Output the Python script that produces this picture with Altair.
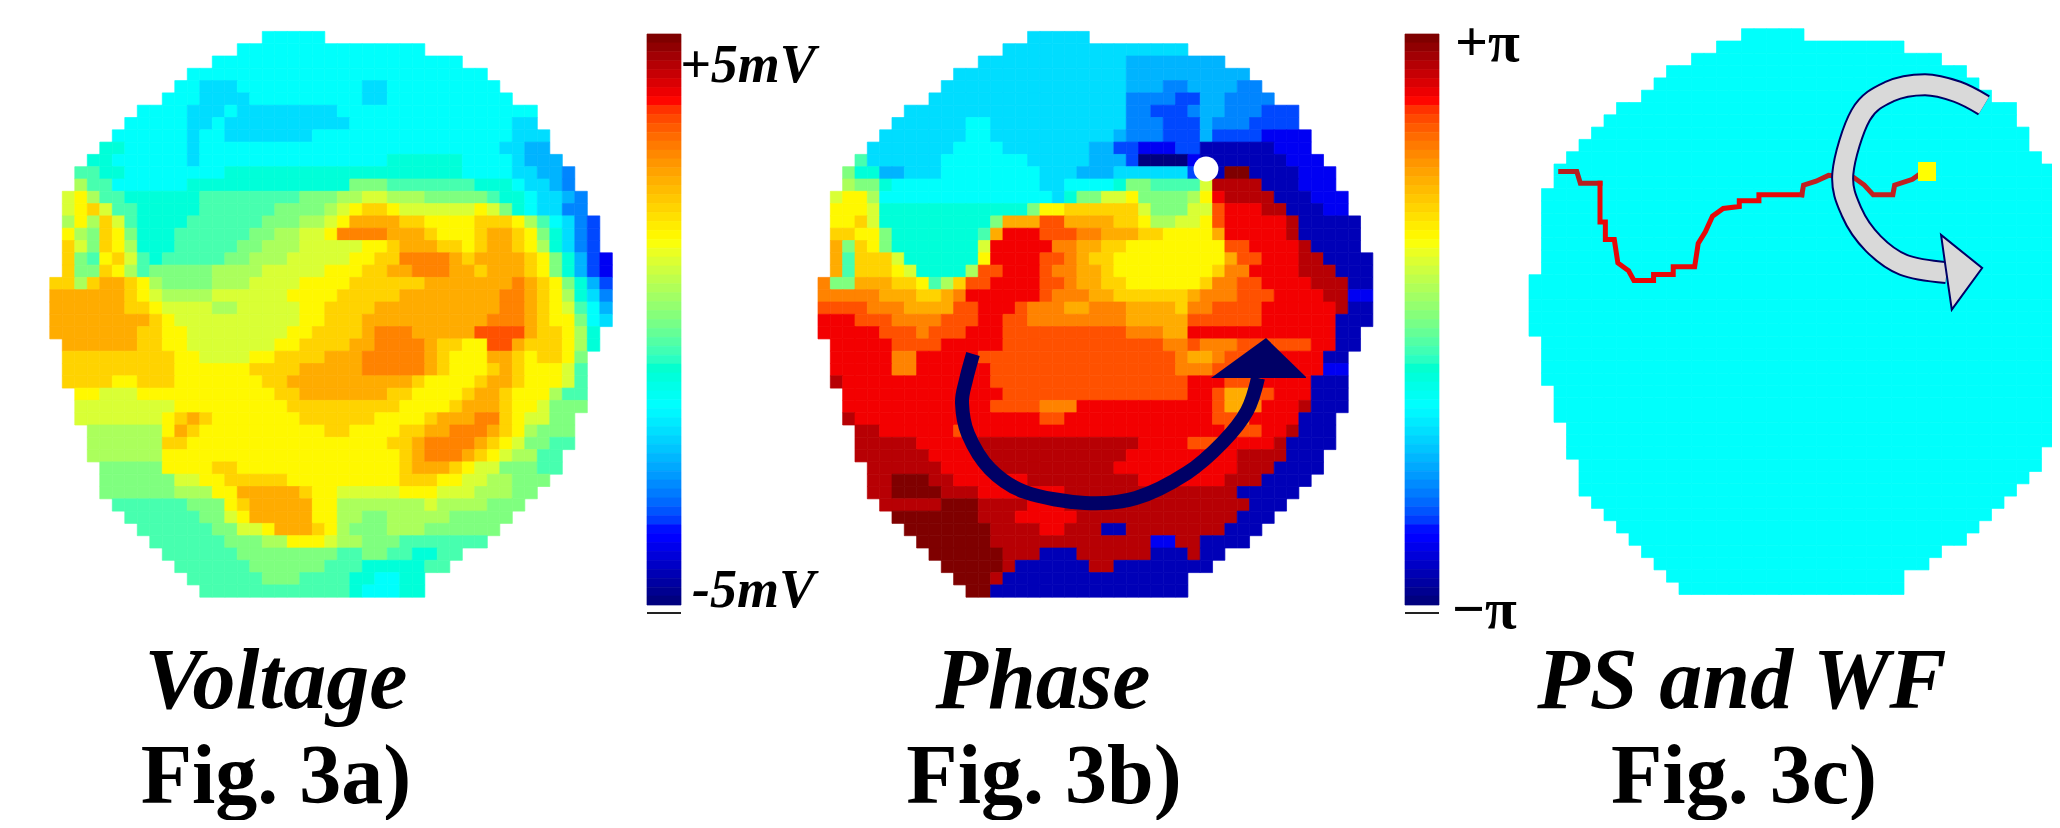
import altair as alt
import pandas as pd

alt.data_transformers.disable_max_rows()

LEFT = [17,15,13,11,10,9,7,6,5,4,3,2,2,1,1,1,1,1,1,1,0,0,0,0,0,1,1,1,1,2,2,2,3,3,3,4,4,4,5,6,7,8,9,10,11,12]
RIGHT = [22,30,33,35,36,37,39,39,40,40,41,42,42,43,43,44,44,44,45,45,45,45,45,45,44,44,43,43,43,43,43,42,42,42,41,41,40,39,38,37,36,35,33,32,30,30]

VOLTAGE = [
"7:22",
"7:30",
"7:33",
"7:35",
"7:12 6:15 7:25 6:27 7:36",
"7:12 6:16 7:25 6:27 7:37",
"7:11 6:14 7:15 6:23 7:39",
"7:11 6:13 7:14 6:24 7:37 6:39",
"7:11 6:12 7:14 6:21 7:37 6:40",
"8:6 7:11 6:12 7:36 6:38 5:40",
"8:5 7:11 6:12 7:27 8:33 7:37 6:38 5:41",
"9:4 8:6 7:14 8:33 7:37 6:39 5:41 4:42",
"b:3 9:5 7:11 8:24 a:27 9:34 8:37 7:38 6:40 5:41 4:42",
"c:2 d:3 b:4 9:6 8:12 9:20 a:23 b:25 c:27 b:30 a:35 9:36 8:38 7:39 6:41 5:42 4:43",
"c:2 d:3 e:4 c:5 9:7 8:12 9:18 a:22 b:23 c:24 d:25 e:27 d:28 c:34 d:35 c:36 a:37 8:38 7:39 6:41 4:43",
"b:2 d:3 b:4 e:5 c:6 9:7 8:11 9:17 a:20 b:22 c:23 d:24 f:28 e:30 d:34 e:37 d:38 b:39 9:40 7:41 6:42 4:43 3:44",
"d:2 b:3 a:4 e:5 d:6 a:7 8:10 9:16 a:18 b:20 c:22 d:23 g:27 f:30 e:31 d:34 e:35 f:37 e:38 d:39 a:40 8:41 6:42 4:43 3:44",
"e:2 c:3 a:4 e:5 d:6 b:7 8:10 9:15 a:17 b:20 c:25 d:27 e:28 f:31 e:33 d:34 e:35 f:37 e:38 d:39 b:40 8:41 6:42 4:43 3:44",
"e:2 a:3 9:4 d:5 e:6 c:7 9:8 8:9 9:14 a:16 b:19 c:24 d:26 e:28 g:32 f:33 e:34 f:38 e:39 d:40 a:41 8:42 5:43 3:44 2:45",
"e:2 a:4 e:5 d:6 b:7 9:8 a:13 b:17 c:22 d:25 e:27 f:29 g:32 f:34 e:35 f:38 e:39 d:40 a:41 8:42 5:43 3:44 2:45",
"e:2 b:3 e:4 f:6 e:7 d:8 b:9 a:13 b:16 c:20 d:24 e:30 f:37 g:38 f:39 e:40 d:41 a:42 8:43 5:44 3:45",
"f:6 e:7 d:8 c:9 b:13 c:19 d:23 e:28 f:36 g:38 f:39 e:40 d:41 b:42 8:43 6:44 4:45",
"f:6 e:8 d:9 c:13 b:15 c:20 d:22 e:26 f:36 g:38 f:39 e:40 d:41 c:42 9:43 7:44 5:45",
"f:8 e:9 d:10 c:20 d:22 e:25 f:35 g:38 f:39 e:40 d:42 a:43 7:44 6:45",
"f:7 e:9 d:11 c:19 d:21 e:25 f:26 g:29 f:34 h:38 f:39 e:41 d:42 b:43 8:44",
"f:7 e:9 d:11 c:18 d:20 e:24 f:26 g:30 f:31 e:33 d:35 h:37 f:38 e:41 d:42 b:43 8:44",
"e:10 d:12 c:16 d:18 e:22 f:25 g:30 f:31 e:32 d:35 f:37 e:38 d:39 e:41 d:42 a:43",
"e:10 d:16 e:20 f:25 g:30 f:31 e:32 d:35 e:36 f:37 e:38 d:41 c:42 9:43",
"e:5 d:7 e:10 d:17 e:19 f:29 e:30 d:34 e:35 f:37 e:38 d:41 c:42 9:43",
"d:4 c:7 d:18 e:20 f:27 e:29 d:33 e:34 f:36 e:37 d:40 b:41 9:43",
"c:10 d:19 e:28 d:32 e:33 f:36 e:37 d:39 c:40 a:43",
"c:9 d:10 e:11 f:12 e:13 d:20 e:26 d:30 e:31 f:34 g:36 e:37 d:38 c:40 a:42",
"b:9 d:10 f:11 e:12 d:22 e:24 d:28 e:30 f:32 g:35 f:36 e:37 d:38 b:39 a:42",
"b:9 e:11 d:27 e:29 f:30 g:34 f:35 e:36 d:37 c:38 a:40 9:42",
"b:9 d:28 e:29 f:30 g:33 f:34 e:35 d:36 c:37 b:39 9:41",
"a:9 d:13 e:15 d:28 e:29 f:32 e:33 d:34 c:36 a:39 9:41",
"a:10 c:12 d:14 e:19 d:28 e:31 d:33 c:35 b:37 a:40",
"a:10 b:13 d:15 f:20 e:21 d:23 c:28 d:31 c:34 b:37 a:39",
"9:11 a:14 d:15 e:16 f:21 d:23 b:30 c:31 b:35 a:38",
"9:12 a:14 c:15 d:16 f:21 d:23 b:25 a:27 b:32 a:37",
"9:13 a:15 c:17 d:18 f:21 e:22 d:23 b:24 a:27 b:30 a:36",
"9:14 a:17 b:19 d:22 c:23 b:25 a:28 9:35",
"9:15 a:23 9:25 a:27 9:29 8:31 9:33",
"9:16 a:22 9:25 8:30 9:32",
"9:17 a:20 9:24 8:26 7:28 8:30",
"9:24 8:25 7:28 8:30",
]

PHASE = [
"6:22",
"6:30",
"6:25 5:33",
"6:25 5:35",
"6:25 5:28 4:30 5:34 4:36",
"6:25 4:29 3:31 5:33 4:37",
"6:25 4:27 3:30 4:31 5:33 4:36 3:39",
"6:12 7:14 6:25 4:28 3:31 5:32 4:35 3:39",
"6:12 7:14 6:24 5:25 4:28 3:31 5:32 3:36 2:40",
"6:11 7:15 6:22 5:24 3:26 2:29 3:31 1:37 2:40",
"9:4 6:10 7:17 6:22 5:25 3:26 0:30 2:31 1:38 2:41",
"a:3 8:5 5:7 6:10 7:18 6:21 5:24 6:30 3:32 1:33 k:35 1:39 2:42",
"b:3 a:5 8:6 7:18 6:20 7:24 8:25 a:27 9:31 c:32 j:36 1:39 2:42",
"c:2 d:4 b:5 7:19 6:20 8:21 a:23 c:25 d:26 a:30 b:31 d:32 i:33 j:37 1:40 2:43",
"d:4 c:5 8:17 a:18 d:20 e:26 c:27 a:30 c:32 h:33 i:36 j:38 1:41 2:43",
"d:3 e:4 c:5 8:14 a:15 f:18 h:20 f:24 e:26 d:27 b:29 c:31 d:32 h:33 i:38 j:39 1:44",
"e:3 d:5 a:6 8:13 9:14 f:15 i:18 h:21 g:23 f:26 e:28 d:32 f:33 i:38 j:39 1:44",
"f:2 a:3 e:4 d:5 a:6 8:13 c:14 i:19 g:21 f:23 e:25 d:33 h:35 i:39 j:40 1:44",
"f:2 9:3 e:6 c:7 8:13 d:14 i:18 h:20 g:21 f:22 e:24 d:33 f:34 h:36 i:39 j:41 1:45",
"f:2 9:3 e:6 d:7 c:8 8:12 b:13 h:15 i:18 h:19 g:21 f:23 e:24 d:32 e:33 g:35 i:39 j:42 1:45",
"g:1 a:3 f:6 e:8 d:9 9:10 b:11 e:12 h:14 i:18 h:20 g:21 f:23 e:25 d:31 e:32 g:34 h:36 i:40 j:43 1:45",
"g:5 f:8 e:10 f:11 g:12 i:18 h:19 g:22 f:24 e:30 f:31 g:34 h:37 i:41 j:43 2:45",
"h:4 g:7 f:11 h:13 i:16 h:17 g:20 f:22 g:25 f:29 e:30 g:32 h:36 i:42 j:43 1:45",
"i:3 h:6 g:10 h:13 i:15 h:17 g:25 f:30 h:36 i:42 1:45",
"i:5 h:8 g:9 h:12 i:15 h:25 g:28 f:30 i:42 1:44",
"i:6 h:10 i:15 h:28 g:30 h:31 g:34 h:40 i:42 1:44",
"i:6 g:8 i:13 h:29 g:30 f:32 g:33 h:36 i:41 1:43",
"i:6 g:8 i:14 h:29 g:32 h:34 i:41 2:43",
"j:2 i:14 h:30 i:33 h:36 i:40 1:43",
"i:15 h:30 i:32 h:33 f:35 h:37 i:40 1:43",
"i:14 h:18 g:21 i:32 h:33 f:35 g:36 i:39 j:40 1:43",
"j:3 i:18 h:20 i:32 h:34 g:35 i:39 1:42",
"j:5 i:11 h:12 i:33 h:36 i:38 j:39 1:42",
"j:8 i:13 j:26 i:30 h:33 i:37 j:38 1:42",
"j:9 i:13 j:25 i:34 j:38 1:41",
"j:10 i:14 j:24 i:34 j:37 1:41",
"j:6 k:9 j:11 i:17 j:26 i:33 j:36 1:40",
"j:6 k:10 j:13 i:20 j:34 1:39",
"j:10 k:13 j:17 i:20 j:35 1:38",
"k:13 j:16 i:21 j:34 1:37",
"k:14 j:18 i:20 j:23 1:25 j:33 1:36",
"k:14 j:27 2:29 j:31 1:35",
"k:15 j:18 1:21 j:27 1:30 j:31 1:33",
"k:15 j:16 1:22 j:24 1:32",
"k:14 j:15 1:30",
"k:14 1:30",
]

LEVELS = "0123456789abcdefghijk"
JET_VALUES = [0, 2.2, 2.5, 6.9, 10, 12.8, 17.8, 20]
JET_COLORS = ["#00007f", "#0000ff", "#0000ff", "#00ffff", "#7fff7f", "#ffff00", "#ff0000", "#7f0000"]

ROWS_Y0, ROW_H = 31.4, 12.3


def cells(rows, x0, cw, y0):
    out = []
    for r, row in enumerate(rows):
        toks = [(LEVELS.index(t[0]), int(t[2:])) for t in row.split()]
        for c in range(LEFT[r], RIGHT[r]):
            lev = next((l for l, e in toks if e > c), toks[-1][0])
            out.append(dict(x=x0 + c * cw, x2=x0 + (c + 1) * cw, y=y0 + r * ROW_H, y2=y0 + (r + 1) * ROW_H, v=lev))
    return out


heat = cells(VOLTAGE, 49.8, 12.5, ROWS_Y0) + cells(PHASE, 818, 12.33, ROWS_Y0)
heat += cells([f"7:{RIGHT[r]}" for r in range(len(LEFT))], 1529, 12.5, 28.7)

CBAR_X = [(647, 681), (1405, 1439)]
CBAR_TOP, CBAR_BOT = 34, 605
CBAR_STEPS = 64
for a, b in CBAR_X:
    h = (CBAR_BOT - CBAR_TOP) / CBAR_STEPS
    for i in range(CBAR_STEPS):
        heat.append(dict(x=a, x2=b, y=CBAR_TOP + i * h, y2=CBAR_TOP + (i + 1) * h, v=20 * (1 - i / (CBAR_STEPS - 1))))

X = alt.X("x:Q", scale=alt.Scale(domain=[8, 2052], nice=False, zero=False), axis=None)
Y = alt.Y("y:Q", scale=alt.Scale(domain=[820, 8], nice=False, zero=False), axis=None)
cscale = alt.Scale(domain=JET_VALUES, range=JET_COLORS)

heat_layer = alt.Chart(pd.DataFrame(heat)).mark_rect(strokeWidth=0.7, clip=True).encode(
    x=X, x2="x2:Q", y=Y, y2="y2:Q",
    color=alt.Color("v:Q", scale=cscale, legend=None),
    stroke=alt.Stroke("v:Q", scale=cscale, legend=None),
)

TICK_X = [647, 1405]
TICK_X2 = [681, 1439]
TICK_Y = [613, 613]
ticks = alt.Chart(pd.DataFrame(dict(x=TICK_X, x2=TICK_X2, y=TICK_Y))).mark_rule(color="#222222", strokeWidth=2).encode(x=X, x2="x2:Q", y=Y)

# Phase panel arrow
ARC_B_X = [973, 966, 962, 968, 990, 1025, 1085, 1136, 1187, 1223, 1247, 1258]
ARC_B_Y = [354, 380, 403, 434, 469, 492, 503, 498, 473, 442, 411, 378]
arc_b = pd.DataFrame(dict(x=ARC_B_X, y=ARC_B_Y, i=range(len(ARC_B_X))))
arrow_b = alt.Chart(arc_b).mark_line(color="#000066", strokeWidth=14, interpolate="cardinal", strokeCap="butt").encode(x=X, y=Y, order="i:Q")
HEAD_B_X = [1211, 1266, 1306]
HEAD_B_TOP = [378, 338, 377]
HEAD_B_BOT = [378, 378, 378]
head_b = alt.Chart(pd.DataFrame(dict(x=HEAD_B_X, y=HEAD_B_TOP, y2=HEAD_B_BOT))).mark_area(color="#000066", opacity=1).encode(x=X, y=Y, y2="y2:Q")

dot = alt.Chart(pd.DataFrame(dict(x=[1206], y=[169]))).mark_circle(color="white", size=615, opacity=1).encode(x=X, y=Y)

# Wave-front trace: dark start, bright middle, dark end (the joins are shared)
TRACE_X = [170, 215, 225, 280, 280, 295, 295, 320, 330, 360, 375, 430, 430, 485, 485, 545, 555, 575, 595, 625, 670, 670, 725, 725, 845, 850, 885, 920, 990, 1020, 1045, 1100, 1105, 1155, 1170]
TRACE_Y = [415, 415, 445, 445, 545, 545, 590, 590, 650, 670, 695, 695, 680, 680, 660, 660, 600, 570, 530, 510, 505, 490, 490, 475, 475, 450, 440, 425, 430, 450, 475, 475, 450, 435, 425]
TRACE_PARTS = [("start", 0, 4, "#b52020"), ("middle", 3, 25, "#e80808"), ("end", 24, 35, "#c02020")]
trace_layers = []
for name, a, b, col in TRACE_PARTS:
    tr = pd.DataFrame(dict(
        x=[1500 + v / 2.8 for v in TRACE_X[a:b]],
        y=[10 + v / 2.57 for v in TRACE_Y[a:b]],
        i=range(b - a),
    ))
    trace_layers.append(alt.Chart(tr).mark_line(strokeWidth=5, strokeJoin="miter", strokeCap="square", color=col).encode(x=X, y=Y, order="i:Q"))
square = alt.Chart(pd.DataFrame(dict(x=[1918], x2=[1936], y=[162], y2=[181]))).mark_rect(color="#ffff00").encode(x=X, x2="x2:Q", y=Y, y2="y2:Q")

# Grey arrow of the third panel
ARC_C_X = [1355, 1280, 1190, 1090, 1010, 960, 985, 1045, 1130, 1250]
ARC_C_Y = [245, 210, 192, 210, 270, 420, 520, 600, 655, 675]
arc_c = pd.DataFrame(dict(x=[1500 + v / 2.8 for v in ARC_C_X], y=[10 + v / 2.57 for v in ARC_C_Y], i=range(len(ARC_C_X))))
arc_outer = alt.Chart(arc_c).mark_line(color="#000066", strokeWidth=23, interpolate="cardinal", strokeCap="butt").encode(x=X, y=Y, order="i:Q")
arc_inner = alt.Chart(arc_c).mark_line(color="#d9d9d9", strokeWidth=19, interpolate="cardinal", strokeCap="butt").encode(x=X, y=Y, order="i:Q")
HEAD_C_Y = [578, 663, 770]
HEAD_C_X = [1235, 1248, 1265]
HEAD_C_X2 = [1235, 1350, 1265]
head_c = alt.Chart(pd.DataFrame(dict(
    y=[10 + v / 2.57 for v in HEAD_C_Y],
    x=[1500 + v / 2.8 for v in HEAD_C_X],
    x2=[1500 + v / 2.8 for v in HEAD_C_X2],
))).mark_area(color="#d9d9d9", orient="horizontal", stroke="#000066", strokeWidth=2, opacity=1).encode(x=X, x2="x2:Q", y=Y)

SERIF = "Liberation Serif"
CAPTIONS = ["Voltage", "Phase", "PS and WF"]
CAPTION_X = [276, 1043, 1742]
FIGS = ["Fig. 3a)", "Fig. 3b)", "Fig. 3c)"]
FIG_X = [276, 1044, 1744]
capt = alt.Chart(pd.DataFrame(dict(x=CAPTION_X, y=[708] * 3, t=CAPTIONS))).mark_text(
    font=SERIF, fontSize=86, fontWeight="bold", fontStyle="italic", align="center", baseline="alphabetic", color="black"
).encode(x=X, y=Y, text="t:N")
figs = alt.Chart(pd.DataFrame(dict(x=FIG_X, y=[803] * 3, t=FIGS))).mark_text(
    font=SERIF, fontSize=84, fontWeight="bold", align="center", baseline="alphabetic", color="black"
).encode(x=X, y=Y, text="t:N")

MV_LABELS = ["+5mV", "-5mV"]
MV_X = [680, 692]
MV_Y = [82, 607]
mv = alt.Chart(pd.DataFrame(dict(x=MV_X, y=MV_Y, t=MV_LABELS))).mark_text(
    font=SERIF, fontSize=54, fontWeight="bold", fontStyle="italic", align="left", baseline="alphabetic", color="black"
).encode(x=X, y=Y, text="t:N")
PI_LABELS = ["+π", "−π"]
PI_X = [1455, 1452]
PI_Y = [61, 628]
pi = alt.Chart(pd.DataFrame(dict(x=PI_X, y=PI_Y, t=PI_LABELS))).mark_text(
    font=SERIF, fontSize=58, fontWeight="bold", align="left", baseline="alphabetic", color="black"
).encode(x=X, y=Y, text="t:N")

chart = alt.layer(
    heat_layer, ticks, *trace_layers, square, arc_outer, arc_inner, head_c,
    arrow_b, head_b, dot, capt, figs, mv, pi,
).resolve_scale(color="independent", stroke="independent").properties(
    width=2044, height=812, padding=0, background="white",
    autosize=alt.AutoSizeParams(type="none"),
).configure_view(stroke=None)

chart.save("out.html", embed_options={"renderer": "svg", "actions": False})
